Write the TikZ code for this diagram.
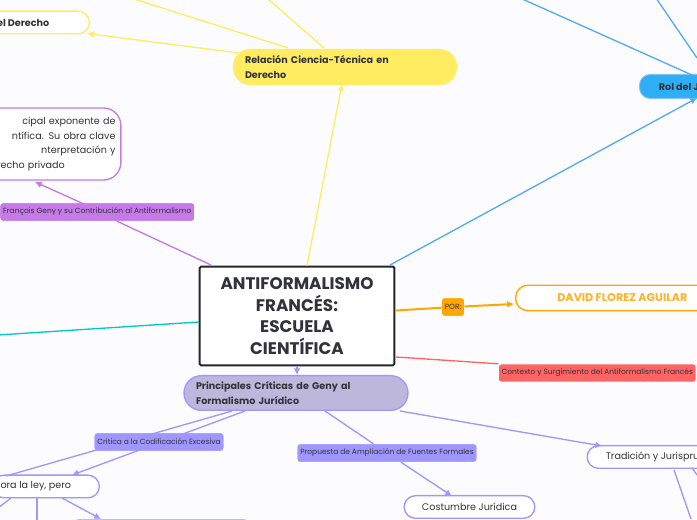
\documentclass[tikz,border=0pt]{standalone}
\usepackage{fontspec}
\setmainfont{Poppins}
\usetikzlibrary{arrows.meta}
\definecolor{amarillo}{RGB}{255,236,96}
\definecolor{morado}{RGB}{197,122,232}
\definecolor{azul}{RGB}{85,170,245}
\definecolor{celeste}{RGB}{46,174,245}
\definecolor{lila}{RGB}{160,150,255}
\definecolor{lilafondo}{RGB}{189,183,219}
\definecolor{naranja}{RGB}{255,166,0}
\definecolor{rojo}{RGB}{255,100,100}
\definecolor{turquesa}{RGB}{0,200,208}
\definecolor{tinta}{RGB}{50,50,58}
\tikzset{every picture/.style={line width=0.75pt}}
\tikzset{
  tema/.style={rounded corners=14pt,font=\bfseries\fontsize{7.2}{11}\selectfont,text=tinta,align=left,minimum height=37pt},
  sub/.style={draw=#1,fill=white,rounded corners=8.5pt,line width=1pt,font=\fontsize{7.2}{11}\selectfont,text=tinta,minimum height=17pt},
  etiqueta/.style={fill=#1,rounded corners=2pt,font=\fontsize{5.6}{7}\selectfont,text=tinta,minimum height=13pt,inner sep=2pt},
  flecha/.style={draw=#1,line width=1pt,-{Latex[length=5pt,width=5pt]}},
  linea/.style={draw=#1,line width=1pt}
}
\begin{document}
\begin{tikzpicture}[x=0.75pt,y=0.75pt,yscale=-1,xscale=1]
	\useasboundingbox (0,0) rectangle (697,520);
	\fill[white!99!blue] (0,0) rectangle (697,520);

	% free ends of connectors
	\coordinate (amarilloA) at (131,-2);
	\coordinate (amarilloB) at (267,-2);
	\coordinate (azulA) at (520,-2);
	\coordinate (azulB) at (656,-2);
	\coordinate (turquesaA) at (-2,335);
	\coordinate (juezB) at (697,98);
	\coordinate (tradA) at (691,519);
	\coordinate (tradB) at (697,475);
	\coordinate (valoraA) at (-2,508);
	\coordinate (valoraB) at (37,522);
	\coordinate (costA) at (462,522);
	\coordinate (costB) at (480,522);

	% Central
	\node[draw=black!85,fill=white,line width=1.5pt,rounded corners=1pt,minimum width=146pt,minimum height=74pt,align=center,font=\bfseries\fontsize{12.6}{16.3}\selectfont,text=tinta] (central) at (297,316) {ANTIFORMALISMO\\FRANCÉS:\\ESCUELA\\CIENTÍFICA};

	% Temas
	\node[tema,fill=amarillo,minimum width=168pt,minimum height=27pt,rounded corners=13pt,text width=150pt,inner sep=0pt] (ciencia) at (345,67) {Relación Ciencia-Técnica en\\Derecho};
	\node[tema,draw=lila,fill=lilafondo,minimum width=168pt,minimum height=26pt,rounded corners=13pt,text width=150pt,inner sep=0pt,line width=1pt] (criticas) at (296,393) {Principales Críticas de Geny al\\Formalismo Jurídico};
	\node[tema,draw=azul!70,fill=celeste,minimum width=80pt,minimum height=18pt,rounded corners=8pt,inner sep=0pt,anchor=west] (juez) at (639,86.5) {\hspace*{12pt}Rol del Juez\hspace*{20pt}};

	% Subtemas
	\node[sub=amarillo,anchor=east,font=\bfseries\fontsize{7.2}{11}\selectfont,minimum width=90pt] (derecho) at (90,22.5) {\hspace*{-20pt}en el Derecho};
	\node[sub=morado,anchor=east,rounded corners=13pt,minimum width=120pt,minimum height=54pt,align=left,text width=112pt,inner sep=3pt] (geny) at (121.5,144) {\hfill cipal exponente de\hspace*{16pt}\\\hfill ntífica. Su obra clave\hspace*{7pt}\\\hfill nterpretación y\hspace*{36pt}\\\hfill erecho privado\hspace*{38pt}};
	\node[sub=naranja,anchor=west,minimum width=160pt,minimum height=19pt,rounded corners=9pt,font=\bfseries\fontsize{8.4}{11}\selectfont,text=naranja!85!white] (david) at (515,298) {DAVID FLOREZ AGUILAR};
	\node[sub=lila,anchor=west,minimum width=120pt] (tradicion) at (586.5,457) {\hspace*{3pt}Tradición y Jurisprudencia};
	\node[sub=lila,minimum width=98pt] (costumbre) at (469.5,507) {Costumbre Jurídica};
	\node[sub=lila,anchor=east,minimum width=80pt] (valora) at (100,486.5) {\hspace*{-26pt}valora la ley, pero};
	\node[sub=lila,anchor=north west,minimum width=142pt,minimum height=20pt,inner sep=0pt] (metodo) at (66,519.5) {};

	% Etiquetas
	\node[etiqueta=morado,anchor=west] (contribucion) at (0,212) {François Geny y su Contribución al Antiformalismo};
	\node[etiqueta=lila] (codificacion) at (159,442) {Crítica a la Codificación Excesiva};
	\node[etiqueta=lila] (ampliacion) at (387,453) {Propuesta de Ampliación de Fuentes Formales};
	\node[etiqueta=naranja] (por) at (453,307) {POR:};
	\node[etiqueta=rojo,anchor=west] (contexto) at (498.5,373) {Contexto y Surgimiento del Antiformalismo Francés};

	% Conectores
	\begin{scope}[on background layer/.try]
	\end{scope}
	\path[flecha=amarillo] (central.north) ++(10,0) coordinate (c1) (c1) -- (342,84);
	\path[flecha=amarillo] (ciencia.west) ++(6,-14) coordinate (c2) (c2) -- (87,33.5);
	\path[linea=amarillo] (288,48) -- (amarilloA);
	\path[linea=amarillo] (324,48) -- (amarilloB);
	\path[flecha=azul] (390,265) -- (697,98);
	\path[linea=azul] (692,75) -- (azulA);
	\path[linea=azul] (697,58) -- (azulB);
	\path[linea=morado] (211,265) -- (contribucion);
	\path[flecha=morado] (84,204) -- (35,182);
	\path[linea=turquesa] (central.west |- 0,322) -- (turquesaA);
	\path[linea=naranja,line width=1.5pt] (396,310.5) -- (por);
	\path[flecha=naranja,line width=1.5pt] (por) -- (514,304);
	\path[linea=rojo] (396,357) -- (contexto.north west);
	\path[flecha=lila] (297,366) -- (297,375);
	\path[linea=lila] (232,411) -- (6,476);
	\path[flecha=lila] (245,411) -- (72,475);
	\path[linea=lila] (325,411) -- (ampliacion);
	\path[flecha=lila] (ampliacion) -- (452,496);
	\path[flecha=lila] (400,411) -- (602,446);
	\path[linea=lila] (674,470) -- (tradA);
	\path[linea=lila] (692,468) -- (tradB);
	\path[linea=lila] (11,498) -- (valoraA);
	\path[linea=lila] (37,498) -- (valoraB);
	\path[flecha=lila] (62,498) -- (101,519);

	% redraw boxes over connectors
	\node[etiqueta=morado,anchor=west] at (0,212) {François Geny y su Contribución al Antiformalismo};
	\node[etiqueta=lila] at (159,442) {Crítica a la Codificación Excesiva};
	\node[etiqueta=lila] at (387,453) {Propuesta de Ampliación de Fuentes Formales};
	\node[etiqueta=naranja] at (453,307) {POR:};
\end{tikzpicture}
\end{document}
